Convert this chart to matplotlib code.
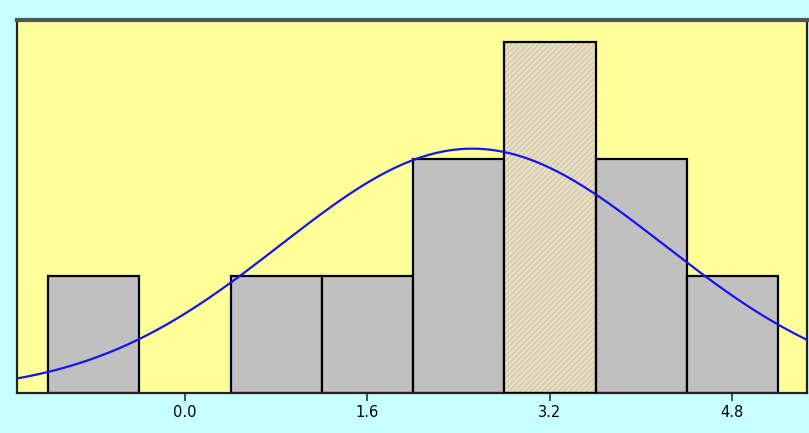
import numpy as np
import matplotlib
matplotlib.use("Agg")
import matplotlib.pyplot as plt

# Histogram bins and counts
bin_edges = [-1.2, -0.4, 0.4, 1.2, 2.0, 2.8, 3.6, 4.4, 5.2]
counts = [1, 0, 1, 1, 2, 3, 2, 1]
highlight_bin = 5  # bin drawn with hatching

# Fitted normal curve
n_obs = 11
curve_mean = 2.52
curve_sd = 1.68

tick_values = [0.0, 1.6, 3.2, 4.8]
tick_labels = ["0.0", "1.6", "3.2", "4.8"]

fig = plt.figure(figsize=(8.09, 4.33), dpi=100, facecolor="#C8FFFF")
ax = fig.add_axes([0.021, 0.0924, 0.9765, 0.8614])
ax.set_facecolor("#FFFF99")

edges = np.array(bin_edges)
widths = np.diff(edges)
lefts = edges[:-1]

for i, (x0, w, c) in enumerate(zip(lefts, widths, counts)):
    if c == 0:
        continue
    if i == highlight_bin:
        ax.bar(x0, c, width=w, align="edge", facecolor="#EEDCCB",
               edgecolor="#C9CFA0", hatch="//////", linewidth=0, zorder=2)
        ax.bar(x0, c, width=w, align="edge", fill=False,
               edgecolor="black", linewidth=1.6, zorder=3)
    else:
        ax.bar(x0, c, width=w, align="edge", facecolor="#C0C0C0",
               edgecolor="black", linewidth=1.6, zorder=2)

xmin, xmax = -1.472, 5.454
xs = np.linspace(xmin, xmax, 400)
bw = widths[0]
ys = n_obs * bw / (curve_sd * np.sqrt(2 * np.pi)) * np.exp(-0.5 * ((xs - curve_mean) / curve_sd) ** 2)
ax.plot(xs, ys, color="#1414F0", linewidth=1.6, zorder=4)

ax.set_xlim(xmin, xmax)
ax.set_ylim(0, 3.19)
ax.set_yticks([])
ax.set_xticks(tick_values)
ax.set_xticklabels(tick_labels, fontsize=10.5, family="Liberation Sans Narrow")
ax.tick_params(axis="x", length=6, width=1.2, color="#333333", pad=3)

for side in ["left", "bottom", "right"]:
    ax.spines[side].set_color("#222222")
    ax.spines[side].set_linewidth(1.6)
ax.spines["top"].set_color("#555555")
ax.spines["top"].set_linewidth(3)

fig.savefig("out.png", dpi=100, facecolor=fig.get_facecolor())
